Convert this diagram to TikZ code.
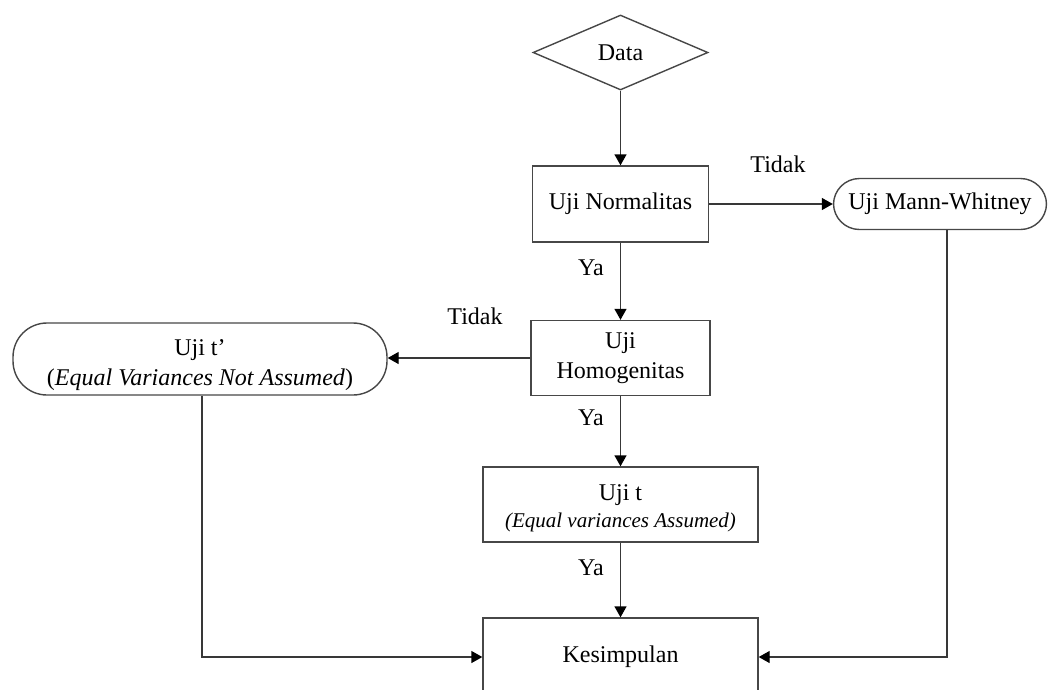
\documentclass[tikz,border=0pt]{standalone}
\usepackage{fontspec}
\setmainfont{Liberation Serif}
\usetikzlibrary{shapes.geometric,arrows.meta}
\begin{document}
\begin{tikzpicture}[x=1pt,y=-1pt,
  txt/.style={font=\fontsize{24}{30}\selectfont, text=black},
  box/.style={txt, draw=black!72, line width=1.4pt, rectangle, inner sep=0pt, align=center},
  rbox/.style={box, rounded corners=26pt},
  conn/.style={draw=black!78, line width=1.4pt},
  arr/.style={conn, -{Triangle[length=11pt,width=12pt,fill=black,color=black]}},
  lbl/.style={txt, inner sep=0pt}]
\useasboundingbox (0,0) rectangle (1048,689);
\begin{scope}
\clip (0,0) rectangle (1048,689);
\node[box, shape=diamond, minimum width=175pt, minimum height=75pt] (data) at (620.5,52.5) {Data};
\node[box, minimum width=176pt, minimum height=76pt] (norm) at (620.5,204) {Uji Normalitas};
\node[rbox, minimum width=213pt, minimum height=51pt] (mw) at (940,204) {Uji Mann-Whitney};
\node[box, minimum width=179pt, minimum height=75pt] (homo) at (620.5,358) {Uji\\Homogenitas};
\node[rbox, rounded corners=34pt, minimum width=374pt, minimum height=72pt] (tp) at (200,359) {\rule{0pt}{29pt}Uji t’\\(\textit{Equal Variances Not Assumed})};
\node[box, minimum width=275pt, minimum height=75pt] (ut) at (620.5,504.5) {\rule{0pt}{23pt}Uji t\\[-3pt]{\fontsize{21}{25}\selectfont\itshape (Equal variances Assumed)}};
\node[box, minimum width=275pt, minimum height=78pt] (kes) at (620.5,657) {Kesimpulan};

\draw[arr] (data.south) -- (norm.north);
\draw[arr] (norm.east) -- (norm.east -| mw.west);
\draw[arr] (norm.south) -- (homo.north);
\draw[arr] (homo.west) -- (homo.west -| tp.east);
\draw[arr] (homo.south) -- (ut.north);
\draw[arr] (ut.south) -- (kes.north);
\draw[arr] ([xshift=2pt]tp.south) |- (kes.west);
\draw[arr] ([xshift=7pt]mw.south) |- (kes.east);

\node[lbl] (t1) at (778,164) {Tidak};
\node[lbl] (t2) at (475,316) {Tidak};
\node[lbl] (y1) at (591,268) {Ya};
\node[lbl] (y2) at (591,418) {Ya};
\node[lbl] (y3) at (591,568) {Ya};
\end{scope}
\end{tikzpicture}
\end{document}
